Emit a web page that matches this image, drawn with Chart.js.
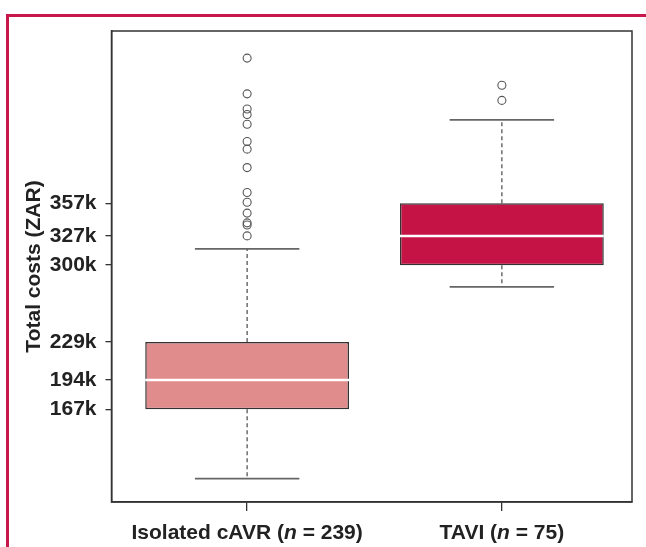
<!DOCTYPE html>
<html>
<head>
<meta charset="utf-8">
<script src="https://cdn.jsdelivr.net/npm/chart.js@4/dist/chart.umd.min.js"></script>
<style>
  html, body { margin: 0; padding: 0; background: #fff; }
  #wrap { position: relative; width: 646px; height: 547px; overflow: hidden; }
  #rule { position: absolute; left: 6px; top: 14px; right: 0; bottom: 0;
          border-top: 3px solid #c8174b; border-left: 3px solid #c8174b; }
  canvas { position: absolute; left: 0; top: 0; }
</style>
</head>
<body>
<div id="wrap">
  <div id="rule"></div>
  <canvas id="c" width="646" height="547"></canvas>
</div>
<script>
// Total costs (thousands of ZAR) by procedure group
const groups      = ['Isolated cAVR', 'TAVI'];
const groupN      = [239, 75];
const groupPos    = [1, 2];
const q1          = [167, 300];
const median      = [194, 327];
const q3          = [229, 357];
const whiskerLow  = [103, 280];
const whiskerHigh = [315, 434];
const outliersCAVR = [491, 458, 444, 439, 430, 414, 407, 390, 367, 358, 348, 339, 337, 327];
const outliersTAVI = [466, 452];
const yTicks      = [167, 194, 229, 300, 327, 357];

const BOX_HALF = 0.4;     // half box width, x units
const CAP_HALF = 0.205;   // half whisker-cap width, x units
const FONT = '"Liberation Sans", Arial, Helvetica, sans-serif';
const INK = '#222';

// Segment helpers: pairs of points separated by a gap
function segments(list) {
  const out = [];
  list.forEach(([a, b]) => { out.push(a, b, { x: a.x, y: null }); });
  return out;
}

const medianSegs = segments(groupPos.map((x, i) => [
  { x: x - BOX_HALF, y: median[i] }, { x: x + BOX_HALF, y: median[i] }
]));
const whiskerSegs = segments(groupPos.flatMap((x, i) => [
  [{ x, y: q3[i] }, { x, y: whiskerHigh[i] }],
  [{ x, y: q1[i] }, { x, y: whiskerLow[i] }]
]));
const capSegs = segments(groupPos.flatMap((x, i) => [
  [{ x: x - CAP_HALF, y: whiskerHigh[i] }, { x: x + CAP_HALF, y: whiskerHigh[i] }],
  [{ x: x - CAP_HALF, y: whiskerLow[i] }, { x: x + CAP_HALF, y: whiskerLow[i] }]
]));
const outlierPts = [
  ...outliersCAVR.map(y => ({ x: groupPos[0], y })),
  ...outliersTAVI.map(y => ({ x: groupPos[1], y }))
];

// Frame around the plotting region and category labels with italic "n"
const framePlugin = {
  id: 'frame',
  afterDraw(chart) {
    const { ctx, chartArea: a, scales } = chart;
    ctx.save();
    ctx.strokeStyle = '#333';
    ctx.lineWidth = 1.5;
    ctx.strokeRect(a.left, a.top, a.right - a.left, a.bottom - a.top);

    ctx.fillStyle = INK;
    ctx.textBaseline = 'middle';
    ctx.textAlign = 'left';
    const y = a.bottom + 31;
    groups.forEach((g, i) => {
      const parts = [
        { t: g + ' (', f: 'bold 21px ' + FONT },
        { t: 'n', f: 'italic bold 21px ' + FONT },
        { t: ' = ' + groupN[i] + ')', f: 'bold 21px ' + FONT }
      ];
      let total = 0;
      parts.forEach(p => { ctx.font = p.f; p.w = ctx.measureText(p.t).width; total += p.w; });
      let x = scales.x.getPixelForValue(groupPos[i]) - total / 2;
      parts.forEach(p => { ctx.font = p.f; ctx.fillText(p.t, x, y); x += p.w; });
    });
    ctx.restore();
  }
};

new Chart(document.getElementById('c'), {
  type: 'bar',
  data: {
    datasets: [
      {
        type: 'bar',
        data: groupPos.map((x, i) => ({ x, y: [q1[i], q3[i]] })),
        backgroundColor: ['#e08b8c', '#c51346'],
        borderColor: '#333',
        borderWidth: 1.5,
        borderSkipped: false,
        barPercentage: 0.8,
        categoryPercentage: 1,
        order: 3
      },
      {
        type: 'line',
        data: whiskerSegs,
        borderColor: '#555',
        borderWidth: 1.3,
        borderDash: [4, 3],
        pointRadius: 0,
        spanGaps: false,
        order: 5
      },
      {
        type: 'line',
        data: capSegs,
        borderColor: '#666',
        borderWidth: 1.8,
        pointRadius: 0,
        spanGaps: false,
        order: 4
      },
      {
        type: 'line',
        data: medianSegs,
        borderColor: '#ffffff',
        borderWidth: 2.5,
        pointRadius: 0,
        spanGaps: false,
        order: 1
      },
      {
        type: 'scatter',
        data: outlierPts,
        pointRadius: 4,
        pointBackgroundColor: 'rgba(0,0,0,0)',
        pointBorderColor: '#555',
        pointBorderWidth: 1.1,
        showLine: false,
        order: 0
      }
    ]
  },
  options: {
    responsive: false,
    devicePixelRatio: 1,
    animation: false,
    events: [],
    layout: { padding: { left: 0, top: 31, right: 14, bottom: 0 } },
    plugins: { legend: { display: false }, tooltip: { enabled: false } },
    scales: {
      x: {
        type: 'linear',
        offset: false,
        min: 0.4676,
        max: 2.5108,
        afterBuildTicks: s => { s.ticks = groupPos.map(v => ({ value: v })); },
        afterFit: s => { s.height = 45; },
        ticks: { display: true, callback: () => '', autoSkip: false },
        grid: { offset: false, drawOnChartArea: false, drawTicks: true, tickLength: 9, color: '#333', lineWidth: 1.3 },
        border: { display: true, color: '#333', width: 1.5 }
      },
      y: {
        type: 'linear',
        min: 81.5,
        max: 516,
        afterBuildTicks: s => { s.ticks = yTicks.map(v => ({ value: v })); },
        afterFit: s => { s.width = 111.5; },
        ticks: {
          callback: v => v + 'k',
          autoSkip: false,
          padding: 9,
          color: INK,
          font: { family: FONT, weight: 'bold', size: 21 }
        },
        grid: { drawOnChartArea: false, drawTicks: true, tickLength: 6, color: '#333', lineWidth: 1.3 },
        border: { display: true, color: '#333', width: 1.5 },
        title: {
          display: true,
          text: 'Total costs (ZAR)',
          color: INK,
          font: { family: FONT, weight: 'bold', size: 21 },
          padding: { top: 22, bottom: 0 }
        }
      }
    }
  },
  plugins: [framePlugin]
});
</script>
</body>
</html>
